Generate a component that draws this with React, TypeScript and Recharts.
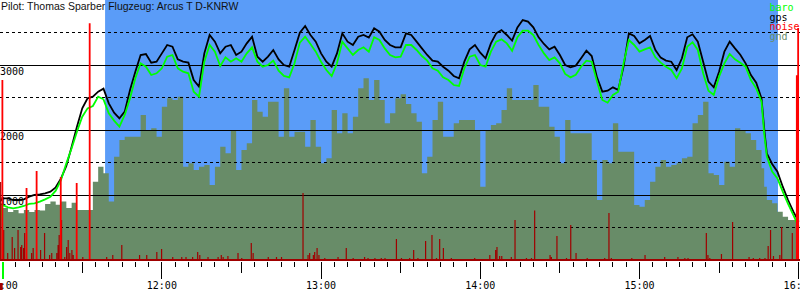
import React from 'react';
import { ComposedChart, XAxis, YAxis, Area, Line, ReferenceLine, ReferenceArea } from 'recharts';

// time in minutes after 11:00
const minutes = [
  -1,
  0, 2, 4, 6, 8, 10, 12, 14, 16, 18,
  20, 22, 24, 26, 28, 30, 32, 34, 36, 38,
  40, 42, 44, 46, 48, 50, 52, 54, 56, 58,
  60, 62, 64, 66, 68, 70, 72, 74, 76, 78,
  80, 82, 84, 86, 88, 90, 92, 94, 96, 98,
  100, 102, 104, 106, 108, 110, 112, 114, 116, 118,
  120, 122, 124, 126, 128, 130, 132, 134, 136, 138,
  140, 142, 144, 146, 148, 150, 152, 154, 156, 158,
  160, 162, 164, 166, 168, 170, 172, 174, 176, 178,
  180, 182, 184, 186, 188, 190, 192, 194, 196, 198,
  200, 202, 204, 206, 208, 210, 212, 214, 216, 218,
  220, 222, 224, 226, 228, 230, 232, 234, 236, 238,
  240, 242, 244, 246, 248, 250, 252, 254, 256, 258,
  260, 262, 264, 266, 268, 270, 272, 274, 276, 278,
  280, 282, 284, 286, 287, 288, 290, 292, 294, 296, 298, 300,
];

const gps = [
  900,
  949, 949, 923, 923, 933, 974, 1000, 1010, 1026, 1051,
  1118, 1256, 1446, 1744, 2051, 2333, 2487, 2513, 2590, 2636,
  2410, 2267, 2179, 2282, 2615, 2897, 3154, 3169, 3036, 3051,
  3179, 3308, 3282, 3087, 3051, 3036, 2769, 2667, 3179, 3462,
  3359, 3179, 3282, 3308, 3154, 3205, 3333, 3436, 3128, 3051,
  3128, 3231, 3087, 3000, 2974, 3231, 3497, 3600, 3462, 3359,
  3179, 3051, 2974, 3179, 3487, 3359, 3308, 3436, 3462, 3421,
  3564, 3513, 3385, 3308, 3272, 3272, 3487, 3462, 3359, 3256,
  3154, 3067, 3051, 2974, 2913, 2831, 2795, 3051, 3241, 3308,
  3190, 3103, 3333, 3487, 3538, 3462, 3374, 3579, 3692, 3667,
  3579, 3425, 3323, 3241, 3282, 3154, 3000, 2964, 2990, 3103,
  3221, 3138, 2810, 2590, 2605, 2656, 2615, 2974, 3487, 3446,
  3333, 3385, 3446, 3231, 3113, 3067, 3051, 2923, 3103, 3426,
  3472, 3359, 3051, 2744, 2656, 2897, 3205, 3359, 3256, 3159,
  3026, 2846, 2728, 2487, 2026, 1641, 1477, 1359, 1128, 923, 744, 590,
];

const baro = [
  600,
  846, 810, 795, 810, 831, 862, 872, 897, 933, 974,
  1067, 1231, 1487, 1718, 1974, 2205, 2333, 2369, 2513, 2472,
  2256, 2144, 2051, 2231, 2487, 2795, 3026, 2974, 2846, 2872,
  2949, 3128, 3154, 2949, 2897, 2872, 2590, 2513, 3051, 3308,
  3205, 2985, 3118, 3051, 3103, 3051, 3179, 3272, 3051, 2974,
  3000, 3067, 2913, 2831, 2810, 3026, 3344, 3436, 3323, 3205,
  3051, 2923, 2831, 3026, 3359, 3256, 3154, 3231, 3272, 3205,
  3426, 3385, 3256, 3154, 3118, 3128, 3308, 3308, 3231, 3138,
  3067, 2949, 2913, 2810, 2769, 2692, 2677, 2949, 3128, 3154,
  3000, 2974, 3205, 3359, 3395, 3333, 3218, 3426, 3528, 3528,
  3462, 3308, 3179, 3077, 3118, 3026, 2862, 2810, 2851, 2974,
  3067, 3051, 2744, 2462, 2420, 2538, 2590, 3026, 3385, 3308,
  3205, 3241, 3272, 3118, 3036, 2974, 2923, 2795, 2949, 3282,
  3349, 3231, 2872, 2605, 2538, 2821, 3026, 3170, 3087, 3036,
  2974, 2769, 2641, 2436, 1949, 1590, 1359, 1256, 1051, 862, 692, 513,
];

const gnd = [
  872,
  800, 740, 770, 720, 770, 740, 770, 760, 860, 900,
  850, 900, 800, 880, 770, 770, 770, 1205, 1436, 1333,
  900, 1590, 1846, 1897, 1897, 1897, 2231, 2000, 2026, 1897,
  2359, 2487, 2462, 2513, 1436, 1487, 1385, 1436, 1462, 1154,
  1436, 1744, 1641, 2000, 1385, 1692, 1795, 2462, 2282, 2205,
  2436, 2436, 1897, 2641, 1897, 1974, 1974, 1744, 2154, 1744,
  1487, 1564, 2308, 1949, 2256, 1949, 2205, 2641, 2795, 2462,
  2769, 2462, 2103, 2256, 2487, 2550, 2400, 2256, 2128, 1333,
  1590, 2154, 2436, 1897, 1897, 2103, 2154, 2154, 2154, 2000,
  1128, 2000, 2077, 2103, 2308, 2641, 2462, 2462, 2462, 2462,
  2692, 2359, 2359, 2051, 1897, 1487, 2154, 1949, 1949, 1949,
  1949, 1538, 923, 1538, 1487, 2103, 1667, 1667, 1667, 846,
  820, 923, 1205, 1436, 1538, 1436, 1462, 1487, 1564, 1590,
  2103, 2231, 2436, 1333, 1308, 1154, 1513, 1436, 2026, 2000,
  1949, 1846, 1692, 1410, 1128, 923, 872, 744, 667, 615, 615, 513,
];

// noise samples (engine noise level, 0..1000)
const noiseMinutes = [
  -0.75, 0.4, 1.9, 3.6, 4.5, 5.8, 6.8, 7.2, 7.9, 8.3, 10.9, 11.5, 14.3, 15.8, 17.7, 18.5,
  20.4, 20.9, 21.3, 22.2, 23.4, 24.1, 24.7, 25.3, 26.1, 26.6, 30.2,
  39.2, 41.5, 44.9, 51.6, 54.3, 58.1, 59.9, 64.1, 67.5, 69.1, 71.6, 73.5,
  74.3, 77.4, 81.2, 82.4, 83.1, 84.9, 88.7, 90.1, 93.7, 94.4, 100.1, 103.2, 105.1,
  113.2, 115.1, 115.7, 117.1, 117.6, 118.5, 119.2, 121.4, 126.4, 129.5, 132.1,
  136.4, 137.7, 140.3, 142.7, 144.1, 148.4,
  150.3, 153.4, 154.9, 156.5, 159.4, 161.8, 163.5, 164.7, 166.1, 169.1, 177.9,
  183.6, 185.8, 186.3, 187.3, 188.1, 191.7, 193.1, 197.4, 199.3, 200.5,
  206.3, 206.8, 208.9, 212.5, 214.1, 216.1, 220.3,
  226.9, 228.5, 229.4, 237.1, 242.1, 249.5, 254.5, 257.1, 258.3, 265.2, 265.8, 266.5,
  270.9, 275.1, 281.3, 282.9, 285.3, 287.3, 288.5, 289.4, 290.5, 292.9, 293.6, 297.6,
];
const noiseValues = [
  300, 115, 27, 88, 46, 115, 50, 58, 46, 104, 27, 46, 38, 104, 19, 27,
  27, 58, 96, 154, 12, 50, 77, 27, 38, 19, 12,
  12, 19, 58, 19, 19, 31, 42, 12, 12, 12, 12, 31,
  19, 12, 12, 19, 12, 15, 27, 8, 65, 27, 12, 12, 12,
  258, 19, 27, 19, 31, 46, 19, 8, 12, 46, 8,
  12, 8, 8, 8, 8, 81,
  8, 8, 38, 8, 73, 96, 8, 81, 46, 8, 8,
  19, 38, 50, 15, 15, 12, 154, 8, 8, 190,
  19, 12, 92, 8, 135, 27, 8,
  8, 181, 8, 8, 19, 12, 12, 8, 8, 104, 19, 8,
  23, 146, 12, 8, 8, 8, 54, 115, 15, 19, 127, 104,
];
// loud noise peaks (engine running)
const peakMinutes = [-0.1, 9.0, 12.8, 21.9, 27.9, 32.8, 299.3, 299.8];
const peakValues = [692, 277, 342, 319, 296, 911, 711, 892];

// time window with sky shading (minutes after 11:00)
const skyWindow = [38.6, 292.2];

const hourLabels = ['11:00', '12:00', '13:00', '14:00', '15:00', '16:00'];
const tickMinutes = Array.from({ length: 61 }, (_, i) => i * 5);
const altLabels = [1000, 2000, 3000];
const solidGrid = [1000, 2000, 3000];
const dashedGrid = [500, 1500, 2500, 3500];

const rows = minutes.map((m, i) => ({ m, gps: gps[i], baro: baro[i], gnd: gnd[i] }));

// each noise sample drawn as a spike rising from the zero level
const spikes = (ms: number[], vs: number[]) =>
  ms.flatMap((m, i) => [
    { m, noise: 0 },
    { m, noise: vs[i] },
    { m, noise: 0 },
  ]);
const noiseRows = spikes(noiseMinutes, noiseValues);
const peakRows = spikes(peakMinutes, peakValues);

const MONO = '"DejaVu Sans Mono", monospace';

const XTick = (props: any) => {
  const { x, y, payload } = props;
  const m = payload.value as number;
  const len = m % 60 === 0 ? 17 : m % 30 === 0 ? 11 : 5;
  const label = m % 60 === 0 ? hourLabels[m / 60] : null;
  const isStart = m === 0;
  return (
    <g>
      <line
        x1={x}
        x2={x}
        y1={y + 2}
        y2={y + 2 + len}
        stroke={isStart ? '#00ff00' : '#000'}
        strokeWidth={isStart ? 2 : 1}
        shapeRendering="crispEdges"
      />
      {label && (
        <text x={x} y={y + 28.5} textAnchor="middle" fontFamily={MONO} fontSize={10} fill="#000">
          {label}
        </text>
      )}
      {isStart && <rect x={x - 3} y={y + 23} width={3} height={7} fill="#a00000" />}
    </g>
  );
};

const altLabel = (text: string) => (p: any) => {
  const vb = p.viewBox || {};
  return (
    <text x={(vb.x || 0) + 0} y={(vb.y || 0) + 10} textAnchor="start" fontFamily={MONO} fontSize={10} fill="#000">
      {text}
    </text>
  );
};

const legendItems = [
  { name: 'baro', color: '#00ff00' },
  { name: 'gps', color: '#000000' },
  { name: 'noise', color: '#ff0000' },
  { name: 'gnd', color: '#6a8d6a' },
];

export default function App() {
  return (
    <div style={{ position: 'absolute', left: 0, top: 0, width: 800, height: 300, background: '#fff' }}>
      <ComposedChart width={800} height={300} data={rows} margin={{ top: 0, right: 0, bottom: 0, left: 0 }}>
        <XAxis
          dataKey="m"
          type="number"
          domain={[-1, 300.5]}
          allowDataOverflow
          ticks={tickMinutes}
          interval={0}
          tickSize={0}
          tickMargin={0}
          height={40}
          tickLine={false}
          axisLine={{ stroke: '#a00000', strokeWidth: 2 }}
          tick={(p: any) => <XTick {...p} />}
        />
        <YAxis yAxisId="alt" domain={[0, 4000]} allowDataOverflow hide />
        <YAxis yAxisId="noise" domain={[0, 1000]} hide allowDataOverflow />
        <ReferenceArea
          yAxisId="alt"
          x1={skyWindow[0]}
          x2={skyWindow[1]}
          y1={0}
          y2={4000}
          fill="#5a9cf8"
          fillOpacity={1}
          stroke="none"
          zIndex={-200}
        />
        <Area
          yAxisId="alt"
          dataKey="gnd"
          type="stepAfter"
          fill="#688c68"
          fillOpacity={1}
          stroke="none"
          connectNulls
          dot={false}
          activeDot={false}
          isAnimationActive={false}
          zIndex={100}
        />
        {solidGrid.map((v) => (
          <ReferenceLine
            key={'s' + v}
            yAxisId="alt"
            y={v}
            stroke="#000"
            strokeWidth={1}
            shapeRendering="crispEdges"
            zIndex={150}
            label={altLabels.includes(v) ? altLabel(String(v)) : undefined}
          />
        ))}
        {dashedGrid.map((v) => (
          <ReferenceLine key={'d' + v} yAxisId="alt" y={v} stroke="#000" strokeWidth={1} strokeDasharray="3 3" shapeRendering="crispEdges" zIndex={150} />
        ))}
        <Line
          yAxisId="alt"
          dataKey="gps"
          type="linear"
          stroke="#000"
          strokeWidth={1.8}
          dot={false}
          activeDot={false}
          connectNulls
          isAnimationActive={false}
          zIndex={400}
        />
        <Line
          yAxisId="alt"
          dataKey="baro"
          type="linear"
          stroke="#00ff00"
          strokeWidth={1.8}
          dot={false}
          activeDot={false}
          connectNulls
          isAnimationActive={false}
          zIndex={410}
        />
        <Line
          yAxisId="noise"
          data={noiseRows}
          dataKey="noise"
          type="linear"
          stroke="#a00000"
          strokeWidth={1.2}
          dot={false}
          activeDot={false}
          isAnimationActive={false}
          zIndex={450}
        />
        <Line
          yAxisId="noise"
          data={peakRows}
          dataKey="noise"
          type="linear"
          stroke="#ff0000"
          strokeWidth={1.8}
          dot={false}
          activeDot={false}
          isAnimationActive={false}
          zIndex={460}
        />
      </ComposedChart>
      <svg width={800} height={300} style={{ position: 'absolute', left: 0, top: 0, pointerEvents: 'none' }}>
        <text x={1} y={10} fontFamily='"Liberation Sans", Arial, sans-serif' fontSize={10.5} fill="#111">
          Pilot: Thomas Sparber Flugzeug: Arcus T D-KNRW
        </text>
        {legendItems.map((it, i) => (
          <text key={it.name} x={769.5} y={11 + i * 9.5} fontFamily={MONO} fontSize={10} fill={it.color}>
            {it.name}
          </text>
        ))}
      </svg>
    </div>
  );
}
